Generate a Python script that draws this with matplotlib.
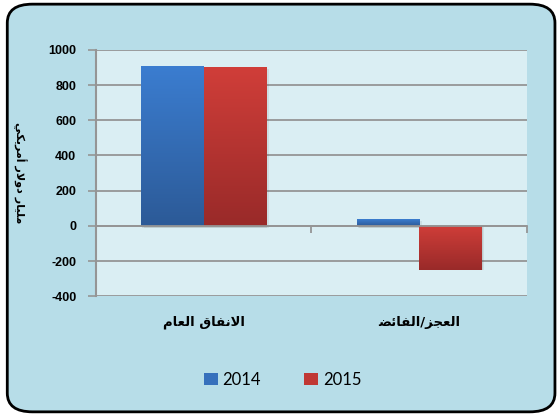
import numpy as np
import matplotlib
matplotlib.use("Agg")
import matplotlib.pyplot as plt
from matplotlib.patches import FancyBboxPatch, Patch
from matplotlib.colors import LinearSegmentedColormap

# Data
categories = ["الانفاق العام", "العجز/الفائض"]
years = ["2014", "2015"]
values_2014 = [909, 38]
values_2015 = [903, -252]
y_label = "مليار دولار أمريكي"
y_ticks = [-400, -200, 0, 200, 400, 600, 800, 1000]

# Minimal Arabic shaping (presentation forms) since matplotlib has no shaper
FORMS = {
    'ا': ('\uFE8D', '\uFE8E', None, None),
    'أ': ('\uFE83', '\uFE84', None, None),
    'د': ('\uFEA9', '\uFEAA', None, None),
    'ر': ('\uFEAD', '\uFEAE', None, None),
    'ز': ('\uFEAF', '\uFEB0', None, None),
    'و': ('\uFEED', '\uFEEE', None, None),
    'ل': ('\uFEDD', '\uFEDE', '\uFEDF', '\uFEE0'),
    'ن': ('\uFEE5', '\uFEE6', '\uFEE7', '\uFEE8'),
    'ف': ('\uFED1', '\uFED2', '\uFED3', '\uFED4'),
    'ق': ('\uFED5', '\uFED6', '\uFED7', '\uFED8'),
    'ع': ('\uFEC9', '\uFECA', '\uFECB', '\uFECC'),
    'م': ('\uFEE1', '\uFEE2', '\uFEE3', '\uFEE4'),
    'ج': ('\uFE9D', '\uFE9E', '\uFE9F', '\uFEA0'),
    'ئ': ('\uFE89', '\uFE8A', '\uFE8B', '\uFE8C'),
    'ض': ('\uFEBF', '\uFEC0', '\uFEC1', '\uFEC2'),
    'ي': ('\uFEF1', '\uFEF2', '\uFEF3', '\uFEF4'),
    'ك': ('\uFED9', '\uFEDA', '\uFEDB', '\uFEDC'),
    'لا': ('\uFEFB', '\uFEFC', None, None),
    'لأ': ('\uFEF7', '\uFEF8', None, None),
}


def shape(text):
    tokens = []
    i = 0
    while i < len(text):
        if text[i] == 'ل' and i + 1 < len(text) and text[i + 1] in 'اأ':
            tokens.append(text[i:i + 2])
            i += 2
        else:
            tokens.append(text[i])
            i += 1
    out = []
    for k, t in enumerate(tokens):
        if t not in FORMS:
            out.append(t)
            continue
        prev = k > 0 and tokens[k - 1] in FORMS and FORMS[tokens[k - 1]][2] is not None
        nxt = FORMS[t][2] is not None and k + 1 < len(tokens) and tokens[k + 1] in FORMS
        idx = 3 if (prev and nxt) else 1 if prev else 2 if nxt else 0
        out.append(FORMS[t][idx])
    return "".join(reversed(out))


ARABIC_FONT = ['DejaVu Sans']
NUM_FONT = ['Liberation Sans', 'DejaVu Sans']
LEGEND_FONT = ['Lato', 'DejaVu Sans']

fig = plt.figure(figsize=(5.6, 4.16), dpi=100, facecolor='white')
frame = FancyBboxPatch((0.013, 0.01), 0.978, 0.98, boxstyle="round,pad=0,rounding_size=0.045",
                       transform=fig.transFigure, facecolor='#B7DDE8', edgecolor='black',
                       linewidth=2, zorder=-1)
fig.patches.append(frame)

ax = fig.add_axes([0.171, 0.288, 0.770, 0.592])
ax.set_zorder(2)
ax.set_facecolor('#DAEEF3')

x = np.arange(len(categories))
width = 0.29
grad_cmaps = {
    "2014": LinearSegmentedColormap.from_list("b", ['#2C5A97', '#3B7DD0']),
    "2015": LinearSegmentedColormap.from_list("r", ['#992A29', '#D03E39']),
}
colors = {"2014": '#3670BC', "2015": '#C03834'}

for yr, vals, off in [("2014", values_2014, -width / 2), ("2015", values_2015, width / 2)]:
    # soft shadow
    for s, a in [(0.012, 0.10), (0.006, 0.12)]:
        ax.bar(x + off + s, vals, width, bottom=[-12 if v > 0 else 0 for v in vals],
               color='#555555', alpha=a, zorder=2, linewidth=0)
    bars = ax.bar(x + off, vals, width, color=colors[yr], zorder=3, linewidth=0, label=yr)
    grad = np.linspace(0, 1, 256).reshape(-1, 1)
    for b in bars:
        x0, y0 = b.get_x(), b.get_y()
        x1, y1 = x0 + b.get_width(), y0 + b.get_height()
        im = ax.imshow(grad, cmap=grad_cmaps[yr], origin='lower', aspect='auto',
                       extent=(x0, x1, min(y0, y1), max(y0, y1)), zorder=4)
        im.set_clip_path(b)

ax.set_xlim(-0.5, len(categories) - 0.5)
ax.set_ylim(min(y_ticks), max(y_ticks))

# gridlines
ax.set_yticks(y_ticks)
ax.yaxis.grid(True, color='#959595', lw=1.3, zorder=1)
ax.set_axisbelow(True)
ax.set_yticklabels([str(v) for v in y_ticks], family=NUM_FONT, fontweight='bold', fontsize=9)
ax.tick_params(axis='y', length=6, width=1.2, color='#959595', pad=8)

for sp in ['top', 'right']:
    ax.spines[sp].set_visible(False)
ax.spines['left'].set_color('#959595')
ax.spines['left'].set_linewidth(1.5)
ax.spines['bottom'].set_position(('data', 0))
ax.spines['bottom'].set_color('#959595')
ax.spines['bottom'].set_linewidth(1.3)
ax.spines['bottom'].set_zorder(5)

ax.set_xticks(x)
ax.set_xticklabels([])
ax.set_xticks(np.arange(len(categories) + 1) - 0.5, minor=True)
ax.tick_params(axis='x', which='major', length=0)
ax.tick_params(axis='x', which='minor', length=5, width=1.3, color='#959595', direction='out')

for xi, c in zip(x, categories):
    ax.text(xi, -0.105, shape(c), transform=ax.get_xaxis_transform(), ha='center', va='center',
            family=ARABIC_FONT, fontweight='bold', fontsize=9.5)

fig.text(0.035, 0.585, shape(y_label), rotation=270, ha='center', va='center',
         family=ARABIC_FONT, fontweight='bold', fontsize=8)

handles = [Patch(facecolor=colors[y], edgecolor='none') for y in years]
fig.legend(handles, years, loc='center', bbox_to_anchor=(0.505, 0.087), ncol=2, frameon=False,
           prop={'family': LEGEND_FONT, 'size': 12}, handlelength=0.8, handleheight=0.8,
           handletextpad=0.3, columnspacing=2.6)

fig.savefig("out.png", dpi=100, facecolor='white')
